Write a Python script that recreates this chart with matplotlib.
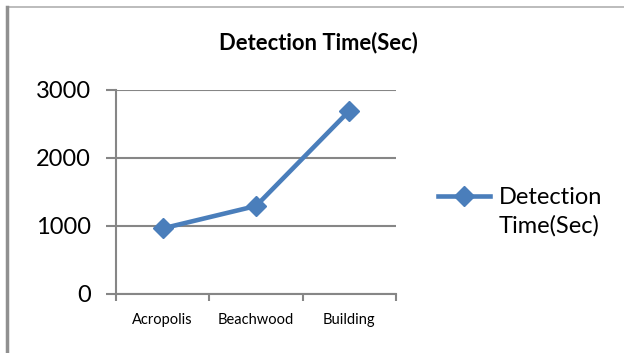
import matplotlib.pyplot as plt
from matplotlib.lines import Line2D

sites = ['Acropolis', 'Beachwood', 'Building']
detection_time = [960, 1290, 2690]
y_ticks = [0, 1000, 2000, 3000]

blue = '#4a7ebb'
grid_gray = '#868686'

plt.rcParams['font.family'] = ['Lato', 'DejaVu Sans']

fig = plt.figure(figsize=(6.24, 3.53), dpi=100)
ax = fig.add_axes([116/624, 1 - 293.7/353, 280/624, 204/353])

ax.plot(range(len(sites)), detection_time, color=blue, linewidth=3.3,
        marker='D', markersize=10.5, label='Detection\nTime(Sec)')

ax.set_xlim(-0.5, len(sites) - 0.5)
ax.set_ylim(0, 3000)
ax.set_yticks(y_ticks)
ax.set_yticklabels([str(v) for v in y_ticks], fontsize=17)
ax.tick_params(axis='y', length=7, width=1.5, color=grid_gray, pad=11)

ax.set_xticks(range(len(sites)))
ax.set_xticklabels(sites, fontsize=10.5)
ax.tick_params(axis='x', which='major', length=0, pad=14)
ax.set_xticks([i - 0.5 for i in range(len(sites) + 1)], minor=True)
ax.tick_params(axis='x', which='minor', length=5, width=1.5, color=grid_gray)

ax.yaxis.grid(True, color=grid_gray, linewidth=1.5)
ax.set_axisbelow(True)
for side in ['top', 'right']:
    ax.spines[side].set_visible(False)
for side in ['left', 'bottom']:
    ax.spines[side].set_color(grid_gray)
    ax.spines[side].set_linewidth(1.5)

fig.text(318/624, 1 - 43/353, 'Detection Time(Sec)', fontsize=15.8,
         fontweight='bold', ha='center', va='center')

leg = fig.legend(loc='upper left', bbox_to_anchor=(429/624, 1 - 178/353),
                 frameon=False, fontsize=17, handlelength=2.2, handletextpad=0.34,
                 borderaxespad=0)
for txt in leg.get_texts():
    txt.set_linespacing(1.4)
# keep the legend line level with the first line of the label
for col in leg._legend_handle_box.get_children():
    for row in col.get_children():
        row.align = 'top'

# outer frame (top and left edges)
fig.add_artist(Line2D([8/624, 1], [1 - 7/353, 1 - 7/353], color='#b0b0b0', linewidth=1.2))
fig.add_artist(Line2D([6.5/624, 6.5/624], [0, 1 - 7/353], color='#909090', linewidth=2.5))

fig.savefig('out.png', dpi=100)
